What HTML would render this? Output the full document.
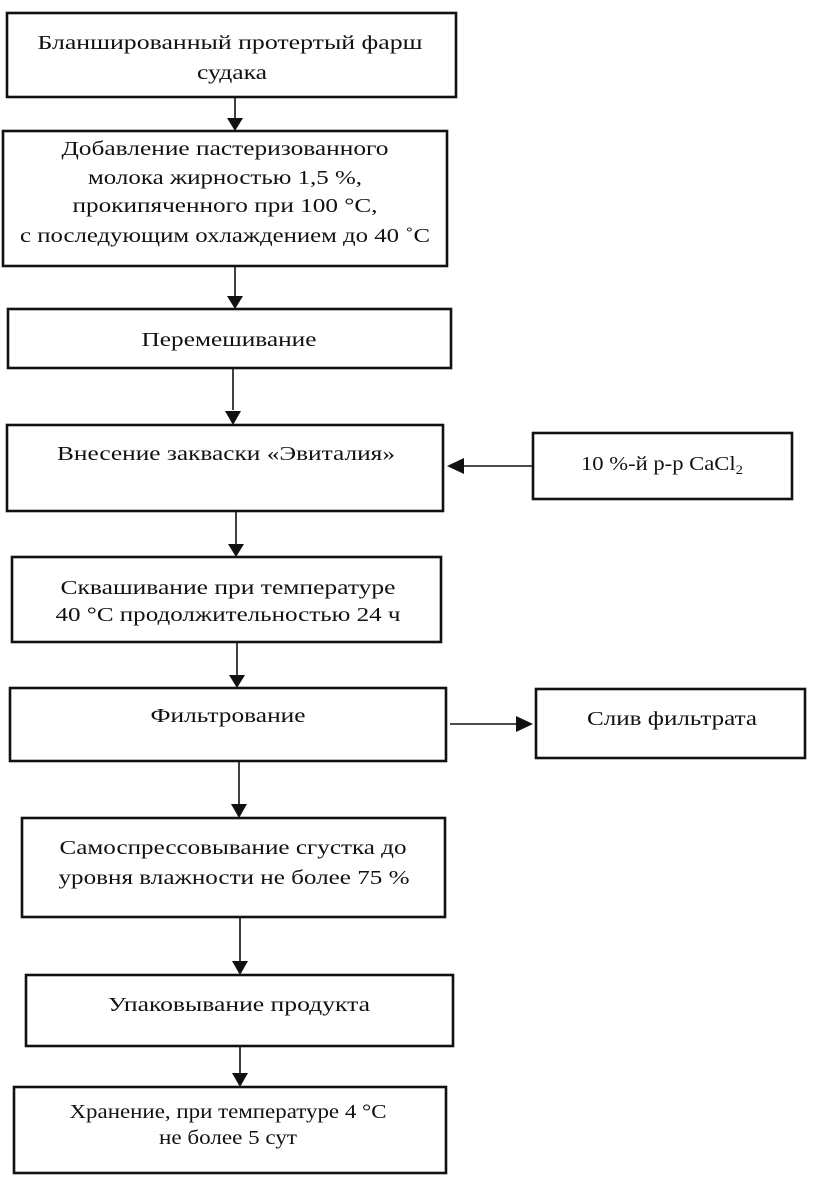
<!DOCTYPE html>
<html><head><meta charset="utf-8"><style>
html,body{margin:0;padding:0;background:#fff;}
svg{display:block;}
text{font-family:"Liberation Serif","DejaVu Serif",serif;font-size:20px;fill:#111;}
</style></head><body>
<svg width="825" height="1184" viewBox="0 0 825 1184" xmlns="http://www.w3.org/2000/svg">
<g fill="none" stroke="#111" stroke-width="2.6">
<rect x="7" y="13" width="449" height="84"/>
<rect x="3" y="131" width="444" height="135"/>
<rect x="8" y="309" width="443" height="59"/>
<rect x="7" y="425" width="436" height="86"/>
<rect x="533" y="433" width="259" height="66"/>
<rect x="12" y="557" width="429" height="85"/>
<rect x="10" y="688" width="436" height="73"/>
<rect x="536" y="689" width="269" height="69"/>
<rect x="22" y="818" width="423" height="99"/>
<rect x="26" y="975" width="427" height="71"/>
<rect x="14" y="1087" width="432" height="86"/>
</g>
<g stroke="#111" stroke-width="1.6">
<line x1="235" y1="97" x2="235" y2="120"/>
<line x1="235" y1="266" x2="235" y2="298"/>
<line x1="233" y1="368" x2="233" y2="410"/>
<line x1="236" y1="511" x2="236" y2="545"/>
<line x1="237" y1="642" x2="237" y2="676"/>
<line x1="239" y1="761" x2="239" y2="806"/>
<line x1="240" y1="917" x2="240" y2="963"/>
<line x1="240" y1="1046" x2="240" y2="1075"/>
<line x1="533" y1="466" x2="462" y2="466"/>
<line x1="450" y1="724" x2="518" y2="724"/>
</g>
<g fill="#111">
<polygon points="227,118 243,118 235,131"/>
<polygon points="227,296 243,296 235,309"/>
<polygon points="225,411 241,411 233,425"/>
<polygon points="228,544 244,544 236,557"/>
<polygon points="229,675 245,675 237,688"/>
<polygon points="231,804 247,804 239,818"/>
<polygon points="232,961 248,961 240,975"/>
<polygon points="232,1073 248,1073 240,1087"/>
<polygon points="447,466 464,458 464,474"/>
<polygon points="533,724 516,716 516,732"/>
</g>
<g text-anchor="middle">
<text x="230" y="49" textLength="385" lengthAdjust="spacingAndGlyphs">Бланшированный  протертый фарш</text>
<text x="232" y="79" textLength="70" lengthAdjust="spacingAndGlyphs">судака</text>
<text x="225" y="155" textLength="327" lengthAdjust="spacingAndGlyphs">Добавление пастеризованного</text>
<text x="225" y="184" textLength="274" lengthAdjust="spacingAndGlyphs">молока жирностью 1,5 %,</text>
<text x="225" y="212" textLength="305" lengthAdjust="spacingAndGlyphs">прокипяченного при 100 °С,</text>
<text x="225" y="242" textLength="410" lengthAdjust="spacingAndGlyphs">с последующим охлаждением до 40 ˚С</text>
<text x="229" y="346" textLength="175" lengthAdjust="spacingAndGlyphs">Перемешивание</text>
<text x="226" y="460" textLength="338" lengthAdjust="spacingAndGlyphs">Внесение закваски «Эвиталия»</text>
<text x="662" y="470" textLength="162" lengthAdjust="spacingAndGlyphs">10 %-й р-р CaCl<tspan font-size="13" dy="4">2</tspan></text>
<text x="228" y="594" textLength="335" lengthAdjust="spacingAndGlyphs">Сквашивание при температуре</text>
<text x="228" y="621" textLength="345" lengthAdjust="spacingAndGlyphs">40 °С продолжительностью 24 ч</text>
<text x="228" y="722" textLength="155" lengthAdjust="spacingAndGlyphs">Фильтрование</text>
<text x="672" y="725" textLength="170" lengthAdjust="spacingAndGlyphs">Слив фильтрата</text>
<text x="233" y="854" textLength="347" lengthAdjust="spacingAndGlyphs">Самоспрессовывание сгустка до</text>
<text x="234" y="884" textLength="351" lengthAdjust="spacingAndGlyphs">уровня влажности не более 75 %</text>
<text x="239" y="1011" textLength="262" lengthAdjust="spacingAndGlyphs">Упаковывание продукта</text>
<text x="228" y="1118" font-size="19" textLength="317" lengthAdjust="spacingAndGlyphs">Хранение, при температуре 4 °С</text>
<text x="228" y="1144" font-size="19" textLength="138" lengthAdjust="spacingAndGlyphs">не более 5 сут</text>
</g>
</svg>
</body></html>
